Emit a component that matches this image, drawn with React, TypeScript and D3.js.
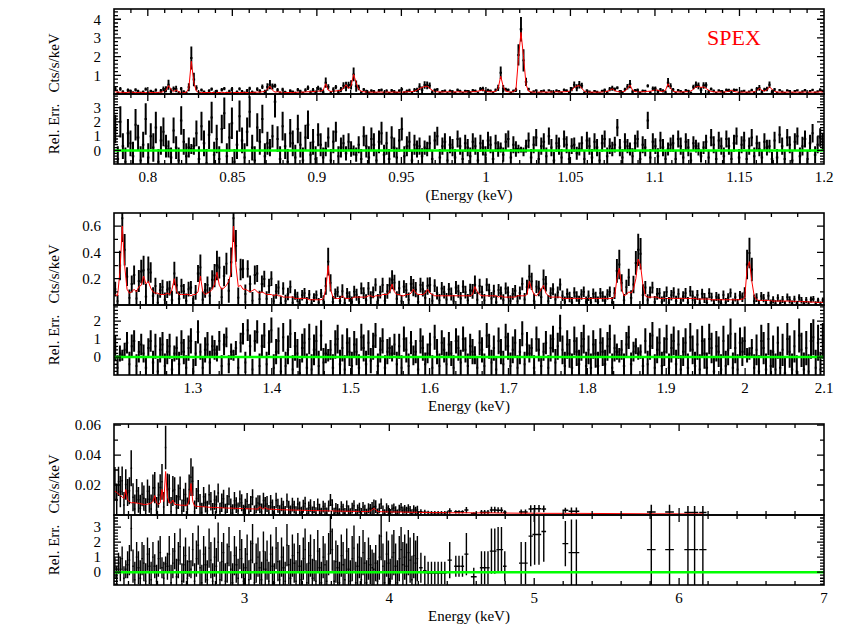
import * as d3 from "d3";

// ---------------- data ----------------
// Per bin: model (Cts/s/keV), relative residual (data-model)/model and its 1-sigma error.
// Rows of 20 bins.

// panel 1: 0.78 - 1.2 keV, 1.5 eV bins
const p1Start = 0.78;
const p1Bin = 0.0015;
const p1Model = [
  .12, .1, .09, .09, .08, .09, .1, .09, .08, .08, .09, .08, .08, .09, .08, .08, .08, .09, .1, .12,
  .2, .45, .25, .12, .22, .12, .09, .08, .09, .3, 1.75, .6, .15, .09, .08, .08, .08, .08, .08, .08,
  .08, .08, .09, .08, .08, .08, .09, .08, .08, .08, .08, .09, .08, .08, .09, .09, .1, .1, .12, .15,
  .25, .42, .2, .1, .12, .1, .09, .08, .08, .08, .08, .09, .09, .1, .1, .11, .12, .12, .13, .14,
  .15, .16, .2, .55, .2, .14, .15, .16, .18, .2, .3, .5, .3, .45, 1.05, .6, .25, .15, .12, .11,
  .1, .1, .1, .1, .11, .1, .1, .11, .1, .1, .11, .1, .1, .1, .11, .12, .12, .13, .15, .2,
  .3, .35, .4, .42, .3, .2, .13, .12, .11, .11, .11, .12, .12, .11, .11, .12, .12, .11, .11, .12,
  .12, .12, .13, .15, .18, .22, .15, .12, .12, .12, .14, .3, .95, .4, .15, .12, .11, .12, .2, 1.9,
  3.3, 2.0, .5, .15, .11, .1, .1, .1, .11, .11, .1, .1, .11, .12, .12, .11, .12, .12, .13, .15,
  .2, .35, .42, .45, .3, .15, .11, .1, .1, .1, .1, .1, .11, .12, .14, .2, .28, .18, .13, .12,
  .13, .15, .3, .48, .2, .13, .12, .12, .12, .13, .14, .15, .18, .22, .2, .14, .14, .2, .55, .3,
  .15, .12, .11, .11, .12, .12, .13, .16, .25, .38, .4, .35, .38, .3, .2, .14, .12, .11, .11, .11,
  .11, .12, .15, .2, .14, .11, .1, .1, .1, .11, .1, .11, .12, .18, .3, .2, .15, .22, .38, .25,
  .14, .11, .1, .1, .1, .1, .11, .1, .1, .1, .1, .1, .11, .1, .1, .1, .1, .1, .12, .1,
];
const p1Res = [
  1.5, -.6, 2.0, .3, -.8, 1.2, .5, -.4, 1.8, .9, -.7, .4, 2.2, -.5, 1.0, .2, 1.6, -.8, .7, 1.3,
  .3, .1, -.5, 1.4, .2, -.7, 2.1, .6, -.4, .2, .1, .3, 1.2, -.6, 1.7, .5, -.9, 1.1, 2.3, -.3,
  .8, -.6, 1.5, 2.6, -.4, .9, 1.9, -.8, .4, 2.4, .7, -.5, 1.3, 2.7, .2, -.7, 1.6, .6, 2.2, -.4,
  .5, .2, 1.0, 3.4, .8, -.6, 1.7, .3, -.8, 1.2, .5, -.5, 1.5, .4, -.7, .9, 1.8, -.3, .6, -.6,
  1.1, .4, -.5, .1, .9, -.7, .6, 1.3, -.4, .2, .5, -.2, .6, .1, 0, -.3, .4, -.6, 1.0, .3,
  -.5, .8, .4, -.7, .6, 1.2, -.3, .5, -.6, .9, .2, -.5, .7, 1.5, -.4, .3, .6, -.7, .4, .1,
  .3, -.4, .2, .1, .5, -.6, .7, 1.0, -.5, .3, .6, -.7, .4, .2, -.5, .8, .3, -.6, .5, .2,
  -.4, .6, .3, -.7, .5, .2, -.3, .7, .4, -.6, .5, .1, .2, -.3, .6, .8, -.5, .4, .1, .1,
  .05, -.1, .3, .7, -.5, .4, .9, -.6, .3, .6, -.4, 1.0, .2, -.7, .5, .3, -.5, .8, .4, -.6,
  .3, .4, -.2, .1, .5, -.6, .7, .3, -.5, .6, .2, -.7, .5, .8, -.4, .3, .1, .4, 1.6, .2,
  -.5, .6, .3, .1, -.4, .5, .8, -.6, .4, .2, 2.1, -.5, .6, .3, -.4, .7, .2, -.6, .1, .4,
  .5, -.6, .8, .3, -.5, .6, .2, -.7, .5, .3, .1, -.4, .2, .6, -.5, .9, .4, -.6, .7, .3,
  -.4, .8, .3, -.6, .5, 1.0, -.5, .4, .7, -.6, .3, .9, -.4, .5, .1, -.5, .6, .2, .3, -.6,
  .7, -.5, 1.1, .3, -.6, .9, .4, -.7, .6, 1.0, -.4, .3, .8, -.6, .5, 1.2, -.3, .4, .9, .6,
];
const p1Err = [
  1, .9, 1.1, .9, 1, 1, .9, 1, 1.1, .9, 1, .9, 1.1, 1, .9, 1, 1.1, .9, 1, 1,
  .8, .6, .7, .9, .8, .9, 1, .9, .9, .7, .35, .6, .9, .9, 1, .9, 1, 1, 1.1, .9,
  1, .9, 1, 1.1, .9, 1, 1.1, .9, 1, 1.1, .9, 1, 1, 1.1, .9, 1, 1, .9, 1, .9,
  .8, .6, .8, 1.1, .9, .9, 1, .9, .9, 1, .9, .9, 1, .9, .9, .9, 1, .9, .9, .9,
  .8, .8, .7, .5, .7, .8, .8, .7, .7, .7, .6, .5, .6, .55, .35, .5, .6, .7, .7, .8,
  .8, .8, .8, .7, .8, .8, .7, .8, .7, .8, .7, .7, .8, .8, .7, .7, .7, .7, .7, .6,
  .6, .55, .5, .5, .55, .6, .6, .65, .6, .6, .6, .6, .6, .6, .6, .6, .6, .6, .6, .6,
  .6, .6, .6, .6, .6, .55, .6, .6, .6, .6, .6, .55, .35, .5, .6, .6, .6, .6, .55, .3,
  .2, .3, .45, .55, .6, .6, .6, .6, .6, .6, .6, .6, .6, .6, .6, .6, .6, .6, .6, .55,
  .55, .5, .45, .45, .5, .6, .6, .6, .6, .6, .6, .6, .6, .6, .6, .55, .5, .55, .6, .6,
  .6, .6, .5, .45, .55, .6, .6, .6, .6, .6, .6, .6, .6, .55, .55, .6, .6, .55, .45, .5,
  .6, .6, .6, .6, .6, .6, .6, .55, .5, .45, .45, .45, .45, .5, .55, .6, .6, .6, .6, .6,
  .6, .6, .6, .55, .6, .6, .6, .6, .6, .6, .6, .6, .6, .55, .5, .55, .6, .55, .45, .5,
  .6, .6, .6, .6, .65, .6, .6, .65, .6, .6, .6, .65, .6, .6, .6, .65, .6, .6, .65, .6,
];

// panel 2: 1.2 - 2.1 keV, 3 eV bins
const p2Start = 1.2;
const p2Bin = 0.003;
const p2Model = [
  .08, .07, .25, .6, .3, .12, .09, .1, .12, .1, .14, .15, .22, .16, .18, .13, .1, .09, .09, .08,
  .08, .08, .09, .08, .12, .2, .1, .08, .08, .08, .08, .08, .07, .08, .08, .1, .22, .1, .08, .09,
  .1, .12, .16, .25, .15, .12, .13, .15, .18, .25, .6, .3, .14, .15, .12, .12, .11, .1, .11, .12,
  .1, .09, .1, .09, .08, .08, .08, .07, .08, .07, .07, .06, .06, .06, .06, .06, .05, .05, .05, .05,
  .05, .05, .04, .04, .04, .04, .04, .04, .05, .12, .3, .12, .06, .05, .05, .05, .07, .05, .05, .05,
  .05, .06, .06, .06, .06, .06, .06, .07, .07, .06, .07, .07, .07, .08, .08, .08, .1, .16, .1, .08,
  .08, .07, .07, .08, .08, .09, .12, .09, .08, .08, .08, .09, .12, .09, .08, .07, .07, .07, .07, .07,
  .07, .07, .07, .07, .07, .07, .07, .07, .07, .07, .07, .08, .14, .1, .08, .07, .07, .07, .07, .07,
  .07, .07, .06, .07, .06, .06, .06, .06, .06, .06, .07, .07, .07, .07, .08, .18, .12, .08, .07, .09,
  .12, .15, .09, .07, .06, .06, .06, .06, .06, .05, .05, .05, .05, .05, .05, .05, .05, .05, .05, .05,
  .05, .05, .05, .05, .05, .05, .05, .05, .05, .05, .05, .06, .2, .28, .12, .07, .08, .1, .09, .12,
  .2, .35, .3, .15, .07, .06, .06, .06, .06, .06, .05, .05, .05, .05, .05, .05, .05, .05, .05, .05,
  .05, .05, .05, .05, .05, .05, .045, .045, .045, .045, .045, .045, .04, .04, .04, .04, .04, .04, .04, .04,
  .04, .04, .04, .04, .04, .045, .05, .28, .33, .18, .07, .04, .035, .035, .035, .035, .035, .03, .03, .03,
  .03, .03, .03, .03, .03, .03, .028, .028, .028, .026, .026, .025, .025, .024, .022, .022, .02, .02, .02, .02,
];
const p2Res = [
  .5, -.6, .2, .1, .4, .8, -.4, .6, .9, -.5, .3, .7, .2, -.6, .5, .9, -.3, .6, -.8, .4,
  .7, -.5, .3, .6, -.7, .2, .5, -.4, .8, .3, -.6, .5, .9, -.8, .2, 1.4, .3, -.6, .4, .7,
  -.3, .6, .4, .2, .9, -.5, .7, 1.1, -.4, .3, .1, .5, -.6, .8, 1.3, -.3, 1.5, .6, -.7, .9,
  1.4, -.5, .6, 1.2, -.4, .8, 1.5, -.6, .3, .9, -.8, 1.1, -.5, .4, 1.3, -.7, .6, .2, -.9, .5,
  .8, -.6, 1.0, -.7, .4, .9, -.5, 1.2, -.3, .2, .1, .4, -.6, .7, 1.0, -.4, .5, -.7, .8, .3,
  -.5, .7, .3, -.6, 1.1, .5, -.4, .8, -.2, .6, 1.2, -.5, .4, .9, -.6, .3, .5, .2, .7, -.4,
  .6, -.6, 1.0, .4, -.5, .8, .1, .3, -.7, .9, .5, -.4, .2, .7, -.6, 1.1, .3, -.5, .8, .4,
  -.4, .7, .2, -.6, .9, .5, -.3, 1.0, .4, -.5, .6, .3, .1, -.6, .8, .4, -.5, 1.2, .6, -.3,
  .5, -.7, .9, .3, -.4, 1.1, .6, -.5, .4, .8, -.6, .3, 1.3, -.4, .7, .2, .5, -.6, 1.0, .4,
  -.5, .3, .8, -.6, .5, 1.0, -.3, .6, 1.6, .4, -.5, .7, .2, -.6, .9, .3, -.4, .6, 1.0, -.5,
  .4, -.6, .7, .2, -.5, .8, .3, -.4, .6, 1.0, -.6, .5, .3, .1, .4, -.5, .7, 1.1, -.4, .3,
  .6, .2, .3, -.5, .9, -.4, .6, 1.2, -.6, .4, .8, -.5, .3, 1.0, -.6, .5, .9, -.4, .7, -.7,
  .3, .8, -.6, 1.1, .4, -.5, .7, -.7, .9, .2, -.6, 1.0, .5, -.8, .6, .3, -.7, .9, -.5, .4,
  1.3, -.6, .5, -.7, .8, .3, .9, .1, .2, .5, -.6, .4, -.8, .9, .5, -.7, 1.0, -.5, .3, -.7,
  .8, -.6, .4, -.9, 1.0, .3, -.7, .6, -.8, 1.2, .4, -.7, .5, -.8, .9, 1.1, -.6, .8, -.7, .9,
];
const p2Err = [
  .7, .7, .45, .3, .4, .6, .7, .65, .6, .65, .6, .6, .5, .6, .55, .6, .65, .7, .7, .7,
  .7, .7, .7, .7, .6, .45, .65, .7, .7, .7, .7, .7, .7, .7, .7, .65, .45, .65, .7, .7,
  .65, .6, .55, .45, .55, .6, .6, .55, .5, .45, .3, .4, .55, .55, .6, .6, .6, .65, .6, .6,
  .65, .7, .65, .7, .7, .7, .7, .75, .7, .75, .75, .8, .8, .8, .8, .8, .8, .8, .8, .8,
  .8, .8, .85, .85, .85, .85, .85, .85, .8, .55, .35, .55, .75, .8, .8, .8, .75, .8, .8, .8,
  .8, .75, .75, .75, .75, .75, .75, .7, .7, .75, .7, .7, .7, .7, .7, .7, .6, .45, .6, .7,
  .7, .7, .7, .7, .7, .65, .55, .65, .7, .7, .7, .65, .55, .65, .7, .7, .7, .7, .7, .7,
  .7, .7, .7, .7, .7, .7, .7, .7, .7, .7, .7, .7, .5, .6, .7, .7, .7, .7, .7, .7,
  .7, .7, .75, .7, .75, .75, .75, .75, .75, .75, .7, .7, .7, .7, .7, .5, .55, .7, .7, .65,
  .55, .5, .65, .7, .75, .75, .75, .75, .75, .8, .8, .8, .8, .8, .8, .8, .8, .8, .8, .8,
  .8, .8, .8, .8, .8, .8, .8, .8, .8, .8, .8, .75, .45, .4, .55, .7, .7, .65, .65, .55,
  .45, .35, .4, .55, .7, .75, .75, .75, .75, .75, .8, .8, .8, .8, .8, .8, .8, .8, .8, .8,
  .8, .8, .8, .8, .8, .8, .85, .85, .85, .85, .85, .85, .85, .85, .85, .85, .85, .85, .85, .85,
  .85, .85, .85, .85, .85, .8, .8, .4, .35, .5, .75, .85, .9, .9, .9, .9, .9, .9, .9, .9,
  .9, .9, .9, .9, .9, .9, .9, .9, .9, .95, .95, .95, .95, .95, 1.0, 1.0, 1.0, 1.0, 1.0, 1.0,
];

// panel 3: 2.1 - 4.2 keV, 12.5 eV bins, then the sparse high-energy bins
const p3Start = 2.1;
const p3Bin = 0.0125;
const p3Model = [
  .016, .015, .014, .013, .012, .011, .017, .01, .009, .008, .0085, .008, .008, .0078, .0075, .0073, .007, .007, .0072, .0075,
  .008, .009, .013, .008, .007, .008, .017, .009, .029, .012, .008, .008, .01, .007, .007, .0068, .0066, .0065, .0065, .0065,
  .0065, .01, .021, .009, .006, .0058, .0057, .0056, .0055, .0055, .0054, .0053, .0052, .0051, .005, .005, .005, .0049, .0048, .0048,
  .0047, .0047, .0046, .0046, .0046, .0045, .0045, .0044, .0044, .0043, .0043, .0043, .0042, .0042, .0041, .0041, .0041, .004, .004, .004,
  .0055, .0045, .004, .005, .0041, .0039, .0038, .0038, .0037, .0037, .0036, .0036, .0035, .0035, .0035, .0034, .0034, .0033, .0033, .0033,
  .0032, .0032, .0032, .0031, .0031, .0031, .003, .003, .003, .003, .0029, .0029, .0029, .0029, .0028, .0028, .0028, .0028, .0027, .0027,
  .0027, .0027, .0026, .0026, .0026, .0026, .0025, .0025, .0025, .0025, .0025, .0024, .0024, .0024, .0024, .0024, .0023, .0023, .0023, .0023,
  .0024, .0026, .0035, .0045, .0035, .0024, .0022, .0022, .0022, .0021, .0021, .0021, .0021, .002, .002, .002, .002, .002, .002, .0019,
  .0019, .0019, .0019, .0018, .0018, .0018, .0018, .0018,
];
const p3Res = [
  .3, -.3, .6, .2, .9, -.4, .2, .5, .8, 2.9, .4, -.5, 1.0, .3, -.4, .9, .6, -.6, 1.2, .4,
  -.5, 1.0, .4, -.6, .9, 1.3, .3, -.4, .55, .4, 1.2, -.7, .6, 1.4, -.3, .8, 1.7, -.6, .5, 1.1,
  -.4, .7, .2, 1.5, -.6, .9, 1.8, .3, -.7, 1.2, .5, -.5, 1.6, .8, -.6, 1.0, .4, 2.0, -.5, .7,
  1.3, -.6, .6, 1.7, .2, -.7, 1.1, .5, -.4, 1.5, .9, -.6, .3, 1.2, -.5, .8, 1.9, -.7, .6, 1.0,
  .3, -.5, 1.4, .2, .8, -.6, 1.2, .4, -.7, 1.6, .7, -.5, 1.0, .3, -.6, 1.8, .5, -.4, 1.1, .6,
  -.6, 1.3, .4, -.5, .9, 1.5, -.7, .6, 1.1, -.4, .8, -.6, 1.4, .3, -.7, 1.0, .5, -.6, 1.2, 2.7,
  1.5, -.6, .7, .3, -.7, 1.1, .5, -.5, 1.4, .2, -.6, .9, 1.6, -.7, .4, 1.0, -.5, 1.3, .6, -.7,
  .9, .5, .3, .2, .6, -.6, 1.0, 2.4, .4, -.7, 1.2, .6, -.6, 1.0, 1.3, .4, -.7, .9, 1.5, .5,
  1.0, .4, 1.3, .8, -.5, 1.1, .6, .9,
];
const p3Err = [
  .7, .7, .7, .8, .8, .8, .6, .9, 1, 1.5, 1.1, 1.2, 1, 1.1, 1.2, 1.1, 1.2, 1.2, 1.1, 1.2,
  1.2, 1, .8, 1.1, 1.2, 1.1, .7, 1.1, .5, .9, 1.2, 1.2, 1, 1.2, 1.2, 1.2, 1.2, 1.2, 1.2, 1.2,
  1.2, 1, .6, 1.1, 1.2, 1.2, 1.3, 1.2, 1.2, 1.2, 1.2, 1.3, 1.3, 1.2, 1.2, 1.3, 1.2, 1.3, 1.2, 1.3,
  1.3, 1.2, 1.3, 1.3, 1.2, 1.3, 1.3, 1.2, 1.3, 1.3, 1.3, 1.2, 1.3, 1.3, 1.3, 1.3, 1.3, 1.3, 1.3, 1.3,
  1.1, 1.2, 1.3, 1.2, 1.3, 1.3, 1.3, 1.3, 1.3, 1.4, 1.3, 1.3, 1.3, 1.4, 1.3, 1.4, 1.3, 1.3, 1.4, 1.3,
  1.4, 1.3, 1.4, 1.3, 1.4, 1.4, 1.3, 1.4, 1.4, 1.3, 1.4, 1.4, 1.4, 1.3, 1.4, 1.4, 1.4, 1.4, 1.4, 1.5,
  1.4, 1.4, 1.4, 1.5, 1.4, 1.4, 1.5, 1.4, 1.5, 1.4, 1.4, 1.5, 1.5, 1.4, 1.5, 1.4, 1.5, 1.5, 1.4, 1.5,
  1.4, 1.3, 1.2, 1.1, 1.2, 1.4, 1.5, 1.6, 1.5, 1.5, 1.5, 1.5, 1.5, 1.5, 1.5, 1.5, 1.5, 1.5, 1.5, 1.5,
  1.5, 1.5, 1.5, 1.5, 1.6, 1.5, 1.5, 1.5,
];
const p3HiE = [
  4.218, 4.245, 4.268, 4.291, 4.314, 4.337, 4.36, 4.383, 4.417, 4.459,
  4.481, 4.505, 4.532, 4.583, 4.636, 4.658, 4.681, 4.705, 4.728, 4.751,
  4.774, 4.797, 4.91, 4.94, 4.976, 5.003, 5.033, 5.066, 5.215, 5.257,
  5.291, 5.808, 5.934, 6.061, 6.107, 6.164,
];
const p3HiHw = [
  .012, .012, .0115, .0115, .0115, .0115, .0115, .0115, .015, .011,
  .011, .011, .014, .02, .011, .011, .011, .0115, .0115, .0115,
  .0115, .012, .015, .015, .015, .015, .015, .016, .02, .02,
  .02, .03, .03, .025, .025, .025,
];
const p3HiModel = [
  .0017, .0017, .0017, .0016, .0016, .0016, .0016, .0016, .0015, .0015,
  .0015, .0015, .0015, .0014, .0014, .0014, .0014, .0014, .0014, .0013,
  .0013, .0013, .0012, .0012, .0012, .0012, .0012, .0011, .0011, .0011,
  .0011, .0008, .0008, .0007, .0007, .0007,
];
const p3HiRes = [
  .3, .1, -.05, -.05, -.05, -.05, -.05, -.05, .8, .4,
  .4, .4, 1.2, -.3, .3, .3, .3, 1.4, 1.4, 1.5,
  1.5, .4, .6, .6, 2.4, 2.5, 2.5, 2.7, 1.9, 1.3,
  1.3, 1.5, 1.5, 1.5, 1.5, 1.5,
];
const p3HiErr = [
  1.0, 1.0, .75, .75, .75, .75, .75, .75, 1.2, .7,
  .7, .7, 1.4, .6, 1.1, 1.1, 1.1, 1.5, 1.5, 1.5,
  1.5, 1.0, 1.4, 1.4, 2.0, 2.0, 2.0, 2.0, 1.5, 2.2,
  2.2, 6, 6, 6, 6, 6,
];

// tick labels
const p1XTicks = [0.8, 0.85, 0.9, 0.95, 1, 1.05, 1.1, 1.15, 1.2];
const p1YTicks = [1, 2, 3, 4];
const p1ResTicks = [0, 1, 2, 3];
const p2XTicks = [1.3, 1.4, 1.5, 1.6, 1.7, 1.8, 1.9, 2, 2.1];
const p2YTicks = [0.2, 0.4, 0.6];
const p2ResTicks = [0, 1, 2];
const p3XTicks = [3, 4, 5, 6, 7];
const p3YTicks = [0.02, 0.04, 0.06];
const p3ResTicks = [0, 1, 2, 3];

// ---------------- layout ----------------
const W = 851, H = 627;
const L = 114, R = 824;
const FONT = "'Liberation Serif', 'Times New Roman', Times, serif";

const gridBins = (start, step, model, res, err) =>
  model.map((m, i) => ({
    e: start + (i + 0.5) * step, hw: step / 2, model: m, res: res[i] ?? 0, err: err[i] ?? 1,
  }));

const panels = [
  {
    id: "p1", top: 9, mid: 94, bottom: 164,
    xDomain: [0.78, 1.2], yTop: [0, 4.55], yRes: [-0.95, 3.95],
    xMinor: 0.01, xEvery: 5, topMinor: 0.2, topEvery: 5, resMinor: 0.2, resEvery: 5,
    barW: 1.9, resW: 2,
    xTicks: p1XTicks, yTicks: p1YTicks, resTicks: p1ResTicks, xTitle: "(Energy (keV)",
    bins: gridBins(p1Start, p1Bin, p1Model, p1Res, p1Err),
  },
  {
    id: "p2", top: 213, mid: 305, bottom: 375,
    xDomain: [1.2, 2.1], yTop: [0, 0.7], yRes: [-1, 2.9],
    xMinor: 0.1 / 3, xEvery: 3, topMinor: 0.1, topEvery: 2, resMinor: 0.2, resEvery: 5,
    barW: 1.9, resW: 2,
    xTicks: p2XTicks, yTicks: p2YTicks, resTicks: p2ResTicks, xTitle: "Energy (keV)",
    bins: gridBins(p2Start, p2Bin, p2Model, p2Res, p2Err),
  },
  {
    id: "p3", top: 424, mid: 515, bottom: 585,
    xDomain: [2.1, 7], yTop: [0, 0.0607], yRes: [-0.85, 3.8],
    xMinor: 0.2, xEvery: 5, topMinor: 0.01, topEvery: 2, resMinor: 0.2, resEvery: 5,
    barW: 1.5, resW: 1.4,
    xTicks: p3XTicks, yTicks: p3YTicks, resTicks: p3ResTicks, xTitle: "Energy (keV)",
    bins: gridBins(p3Start, p3Bin, p3Model, p3Res, p3Err).concat(
      p3HiE.map((e, i) => ({ e, hw: p3HiHw[i], model: p3HiModel[i], res: p3HiRes[i], err: p3HiErr[i] }))
    ),
  },
];

// tick positions strictly inside a domain, flagged major every n-th
function tickList(domain, step, every) {
  const out = [];
  const k0 = Math.ceil(domain[0] / step - 1e-6);
  const k1 = Math.floor(domain[1] / step + 1e-6);
  for (let k = k0; k <= k1; k++) {
    const v = k * step;
    if (Math.abs(v - domain[0]) < step * 1e-3 || Math.abs(v - domain[1]) < step * 1e-3) continue;
    out.push({ v, major: k % every === 0 });
  }
  return out;
}

function Panel({ p }) {
  const x = d3.scaleLinear().domain(p.xDomain).range([L, R]);
  const yT = d3.scaleLinear().domain(p.yTop).range([p.mid, p.top]);
  const yR = d3.scaleLinear().domain(p.yRes).range([p.bottom, p.mid]);

  // error-bar crosses: data = model * (1 + res)
  const topPath = d3.path();
  const resPath = d3.path();
  p.bins.forEach((b) => {
    const d = b.model * (1 + b.res);
    const de = b.model * b.err;
    topPath.moveTo(x(b.e), yT(d - de));
    topPath.lineTo(x(b.e), yT(d + de));
    topPath.moveTo(x(b.e - b.hw), yT(d));
    topPath.lineTo(x(b.e + b.hw), yT(d));
    resPath.moveTo(x(b.e), yR(b.res - b.err));
    resPath.lineTo(x(b.e), yR(b.res + b.err));
    resPath.moveTo(x(b.e - b.hw), yR(b.res));
    resPath.lineTo(x(b.e + b.hw), yR(b.res));
  });

  const modelLine = d3.line().x((b) => x(b.e)).y((b) => yT(b.model))(p.bins);

  // tick marks on all four sides of both boxes
  const tk = d3.path();
  const MAJ = 7, MIN = 4;
  tickList(p.xDomain, p.xMinor, p.xEvery).forEach((t) => {
    const len = t.major ? MAJ : MIN;
    const xx = x(t.v);
    [p.top, p.mid].forEach((yy) => { tk.moveTo(xx, yy); tk.lineTo(xx, yy + len); });
    [p.mid, p.bottom].forEach((yy) => { tk.moveTo(xx, yy); tk.lineTo(xx, yy - len); });
  });
  const yTicks = (scale, domain, step, every) =>
    tickList(domain, step, every).forEach((t) => {
      const len = t.major ? MAJ : MIN;
      const yy = scale(t.v);
      tk.moveTo(L, yy); tk.lineTo(L + len, yy);
      tk.moveTo(R, yy); tk.lineTo(R - len, yy);
    });
  yTicks(yT, p.yTop, p.topMinor, p.topEvery);
  yTicks(yR, p.yRes, p.resMinor, p.resEvery);

  return (
    <g>
      <defs>
        <clipPath id={p.id + "top"}>
          <rect x={L} y={p.top} width={R - L} height={p.mid - p.top} />
        </clipPath>
        <clipPath id={p.id + "res"}>
          <rect x={L} y={p.mid} width={R - L} height={p.bottom - p.mid} />
        </clipPath>
      </defs>

      <g clipPath={`url(#${p.id}top)`}>
        <path d={topPath.toString()} stroke="#000" strokeWidth={p.barW} fill="none" />
        <path d={modelLine} stroke="#ff0000" strokeWidth={1} fill="none" />
      </g>
      <g clipPath={`url(#${p.id}res)`}>
        <path d={resPath.toString()} stroke="#000" strokeWidth={p.resW} fill="none" />
        <line x1={L} x2={R} y1={yR(0)} y2={yR(0)} stroke="#00ff00" strokeWidth={2.5} />
      </g>

      <path d={tk.toString()} stroke="#000" strokeWidth={1.3} fill="none" />
      <rect x={L} y={p.top} width={R - L} height={p.mid - p.top} fill="none" stroke="#000" strokeWidth={1.6} />
      <rect x={L} y={p.mid} width={R - L} height={p.bottom - p.mid} fill="none" stroke="#000" strokeWidth={1.6} />

      <g style={{ fontFamily: FONT }} fontSize={15} fill="#000">
        {p.yTicks.map((v) => (
          <text key={"yt" + v} x={L - 13} y={yT(v)} dy="0.35em" textAnchor="end">{String(v)}</text>
        ))}
        {p.resTicks.map((v) => (
          <text key={"yr" + v} x={L - 13} y={yR(v)} dy="0.35em" textAnchor="end">{String(v)}</text>
        ))}
        {p.xTicks.map((v) => (
          <text key={"x" + v} x={x(v)} y={p.bottom + 18} textAnchor="middle">{String(v)}</text>
        ))}
        <text x={(L + R) / 2} y={p.bottom + 36} textAnchor="middle">{p.xTitle}</text>
        <text transform={`translate(59,${p.mid - 1.5}) rotate(-90)`} textAnchor="start">Cts/s/keV</text>
        <text transform={`translate(59,${(p.mid + p.bottom) / 2}) rotate(-90)`} textAnchor="middle">Rel. Err.</text>
      </g>
    </g>
  );
}

export default function App() {
  return (
    <svg width={W} height={H} style={{ position: "absolute", left: 0, top: 0, background: "#fff" }}>
      <rect x={0} y={0} width={W} height={H} fill="#fff" />
      {panels.map((p) => (
        <Panel key={p.id} p={p} />
      ))}
      <text x={707} y={45} style={{ fontFamily: FONT }} fontSize={22} fill="#ff0000">SPEX</text>
    </svg>
  );
}
